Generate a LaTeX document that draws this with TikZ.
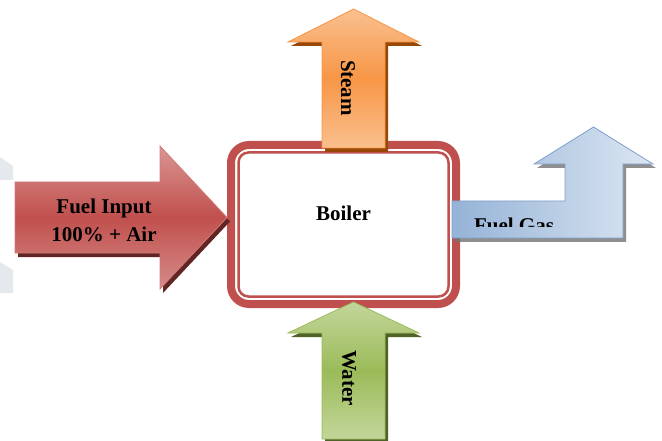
\documentclass[tikz,border=0pt]{standalone}
\usepackage{fontspec}
\setmainfont{Liberation Serif}
\usetikzlibrary{shadows}

\definecolor{boilerred}{HTML}{C0504D}
\definecolor{fuelred}{HTML}{C0504D}
\definecolor{fuelredlight}{HTML}{DA9694}
\definecolor{fuelredshadow}{HTML}{632523}
\definecolor{steamorange}{HTML}{F79646}
\definecolor{steamlight}{HTML}{FAC08F}
\definecolor{steamshadow}{HTML}{974706}
\definecolor{watergreen}{HTML}{9BBB59}
\definecolor{waterlight}{HTML}{C3D69B}
\definecolor{watershadow}{HTML}{4F6228}
\definecolor{gasblue}{HTML}{95B3D7}
\definecolor{gaslight}{HTML}{DCE6F2}
\definecolor{gasedge}{HTML}{7F9FCB}
\definecolor{markgray}{HTML}{E4E9EE}

\begin{document}
\begin{tikzpicture}[x=1pt,y=-1pt,
  lbl/.style={font=\fontsize{21}{28}\selectfont\bfseries,inner sep=0pt,text=black},
  fuelarrow/.style={draw=fuelred!75!white,line width=0.8pt,top color=fuelredlight,bottom color=fuelredlight!85!fuelred,middle color=fuelred,
    drop shadow={shadow xshift=3pt,shadow yshift=-4pt,fill=fuelredshadow,opacity=1}},
  steamarrow/.style={draw=steamorange,line width=0.8pt,top color=steamlight,bottom color=steamlight,middle color=steamorange,
    drop shadow={shadow xshift=3pt,shadow yshift=-4pt,fill=steamshadow,opacity=1}},
  waterarrow/.style={draw=watergreen,line width=0.8pt,top color=waterlight,bottom color=waterlight,middle color=watergreen,
    drop shadow={shadow xshift=3pt,shadow yshift=-4pt,fill=watershadow,opacity=1}},
  gasarrow/.style={draw=gasedge,line width=0.8pt,left color=gasblue,right color=gaslight,
    drop shadow={shadow xshift=3pt,shadow yshift=-4pt,fill=black!55,opacity=0.8}}]
\useasboundingbox (0,0) rectangle (662,441);
% faint mark on the left edge
\fill[markgray] (0,157) -- (13,166) -- (13,180) -- (0,180) -- cycle;
\fill[markgray] (0,262) -- (13,270) -- (13,293) -- (0,293) -- cycle;
% boiler
\node[draw=boilerred,line width=8pt,fill=white,rounded corners=18pt,inner sep=0pt,
  minimum width=225pt,minimum height=159pt] (boiler) at (343.5,224.5) {};
\draw[boilerred,line width=2.5pt,rounded corners=10pt] ([shift={(11.5,11.5)}]boiler.north west) rectangle ([shift={(-11.5,-11.5)}]boiler.south east);
\node[lbl] (boilertxt) at (343.5,213) {Boiler};
% steam
\path[steamarrow] (322,148) -- (322,42) -- (288,42) -- (353.5,9) -- (419,42) -- (385,42) -- (385,148) -- cycle;
\node[lbl,rotate=-90] (steamtxt) at (348,88) {Steam};
% water
\path[waterarrow] (322,439) -- (322,333) -- (288,333) -- (353.5,302) -- (419,333) -- (385,333) -- (385,439) -- cycle;
\node[lbl,rotate=-90] (watertxt) at (349,378) {Water};
% fuel input
\path[fuelarrow] (15,182) -- (160,182) -- (160,146) -- (227,217.5) -- (160,289) -- (160,253) -- (15,253) -- cycle;
\node[lbl,align=center] (fueltxt) at (104,220) {Fuel Input\\100\% + Air};
% fuel gas
\path[gasarrow] (452,201) -- (565,201) -- (565,164) -- (534,164) -- (593.5,127) -- (653,164) -- (623,164) -- (623,238) -- (452,238) -- cycle;
\begin{scope}
\clip (452,201) rectangle (623,227);
\node[lbl] (gastxt) at (514,225) {Fuel Gas};
\end{scope}
\end{tikzpicture}
\end{document}
